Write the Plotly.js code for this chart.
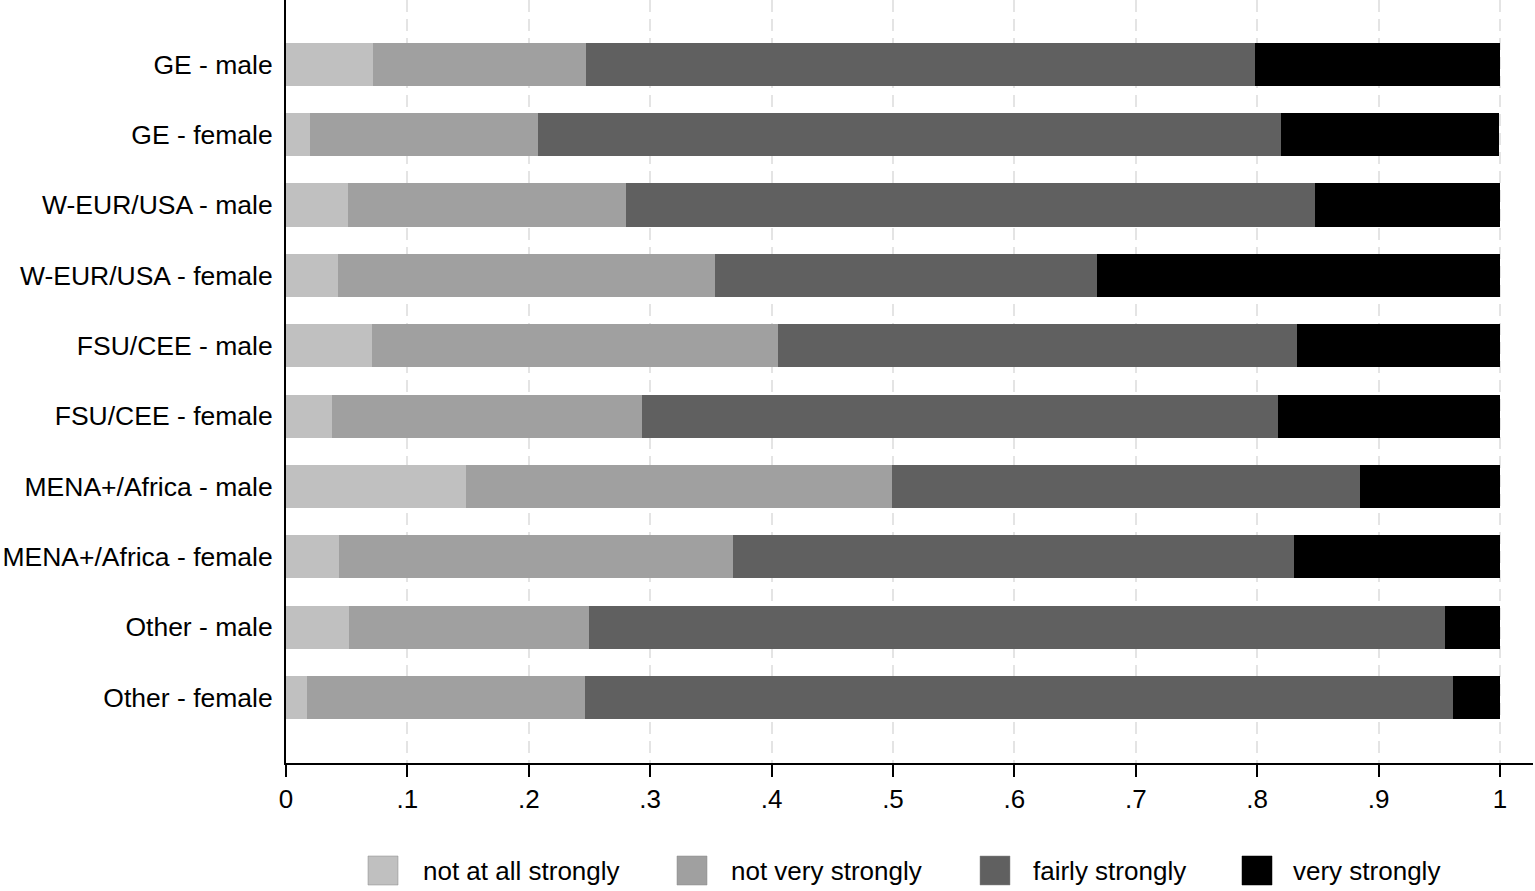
<!DOCTYPE html>
<html>
<head>
<meta charset="utf-8">
<script src="https://cdn.plot.ly/plotly-3.0.1.min.js"></script>
<style>html,body{margin:0;padding:0;background:#fff;}#chart{width:1535px;height:891px;}</style>
</head>
<body>
<div id="chart"></div>
<script>
const categories = ["GE - male","GE - female","W-EUR/USA - male","W-EUR/USA - female","FSU/CEE - male","FSU/CEE - female","MENA+/Africa - male","MENA+/Africa - female","Other - male","Other - female"];
const seriesNames = ["not at all strongly","not very strongly","fairly strongly","very strongly"];
const notAtAll   = [0.072, 0.020, 0.051, 0.043, 0.071, 0.0375, 0.148, 0.044, 0.052, 0.017];
const notVery    = [0.1755, 0.1875, 0.229, 0.310, 0.3345, 0.2555, 0.351, 0.3245, 0.198, 0.229];
const fairly     = [0.5505, 0.612, 0.568, 0.315, 0.427, 0.5245, 0.3855, 0.462, 0.7045, 0.715];
const very       = [0.202, 0.180, 0.152, 0.332, 0.1675, 0.1825, 0.1155, 0.1695, 0.0455, 0.039];
const tickVals   = [0, 0.1, 0.2, 0.3, 0.4, 0.5, 0.6, 0.7, 0.8, 0.9, 1];
const tickText   = ["0", ".1", ".2", ".3", ".4", ".5", ".6", ".7", ".8", ".9", "1"];
const colors     = ["#c0c0c0", "#a0a0a0", "#606060", "#000000"];

const values = [notAtAll, notVery, fairly, very];
const FONT = "Liberation Sans, Arial, sans-serif";

const traces = values.map((v, i) => ({
  type: "bar",
  orientation: "h",
  name: seriesNames[i],
  y: categories,
  x: v,
  marker: {color: colors[i], line: {width: 0}},
  showlegend: false,
  hoverinfo: "skip"
}));

// plot-area geometry (pixels) for legend placement
const W = 1535, H = 891, ML = 286, MR = 2, MT = 0, MB = 128;
const PW = W - ML - MR, PH = H - MT - MB;
const px = x => (x - ML) / PW;
const py = y => (H - MB - y) / PH;

const legendSwatchX = [368, 677, 980, 1242];
const legendTextX   = [421, 729, 1031, 1291];
const legendY = 870.5;

const shapes = [], annotations = [];
seriesNames.forEach((n, i) => {
  shapes.push({
    type: "rect", xref: "paper", yref: "paper",
    x0: px(legendSwatchX[i]), x1: px(legendSwatchX[i] + 30),
    y0: py(legendY + 14.5), y1: py(legendY - 14.5),
    fillcolor: colors[i], line: {color: i === 3 ? "#000" : "#8a8a8a", width: 0.5}
  });
  annotations.push({
    xref: "paper", yref: "paper", x: px(legendTextX[i]), y: py(legendY + 1),
    xanchor: "left", yanchor: "middle", text: n, showarrow: false,
    font: {family: FONT, size: 26, color: "#000"}
  });
});

const layout = {
  width: W, height: H,
  margin: {l: ML, r: MR, t: MT, b: MB, pad: 0},
  paper_bgcolor: "#fff", plot_bgcolor: "#fff",
  barmode: "stack",
  bargap: 0.385,
  font: {family: FONT, size: 26, color: "#000"},
  showlegend: false,
  xaxis: {
    range: [0, 1.0272],
    tickvals: tickVals, ticktext: tickText,
    showline: true, linecolor: "#000", linewidth: 2,
    ticks: "outside", ticklen: 12, tickwidth: 2, tickcolor: "#000",
    showgrid: true, gridcolor: "#e4e4e4", gridwidth: 2, griddash: "12px,7px",
    zeroline: false,
    tickfont: {family: FONT, size: 26, color: "#000"},
    fixedrange: true
  },
  yaxis: {
    type: "category",
    categoryorder: "array", categoryarray: categories,
    range: [9.93, -0.915],
    showline: true, linecolor: "#000", linewidth: 2,
    ticks: "", showgrid: false, zeroline: false,
    ticklabelstandoff: 6,
    tickfont: {family: FONT, size: 26.5, color: "#000"},
    fixedrange: true
  },
  shapes: shapes,
  annotations: annotations
};

Plotly.newPlot("chart", traces, layout, {displayModeBar: false, staticPlot: true});
</script>
</body>
</html>
